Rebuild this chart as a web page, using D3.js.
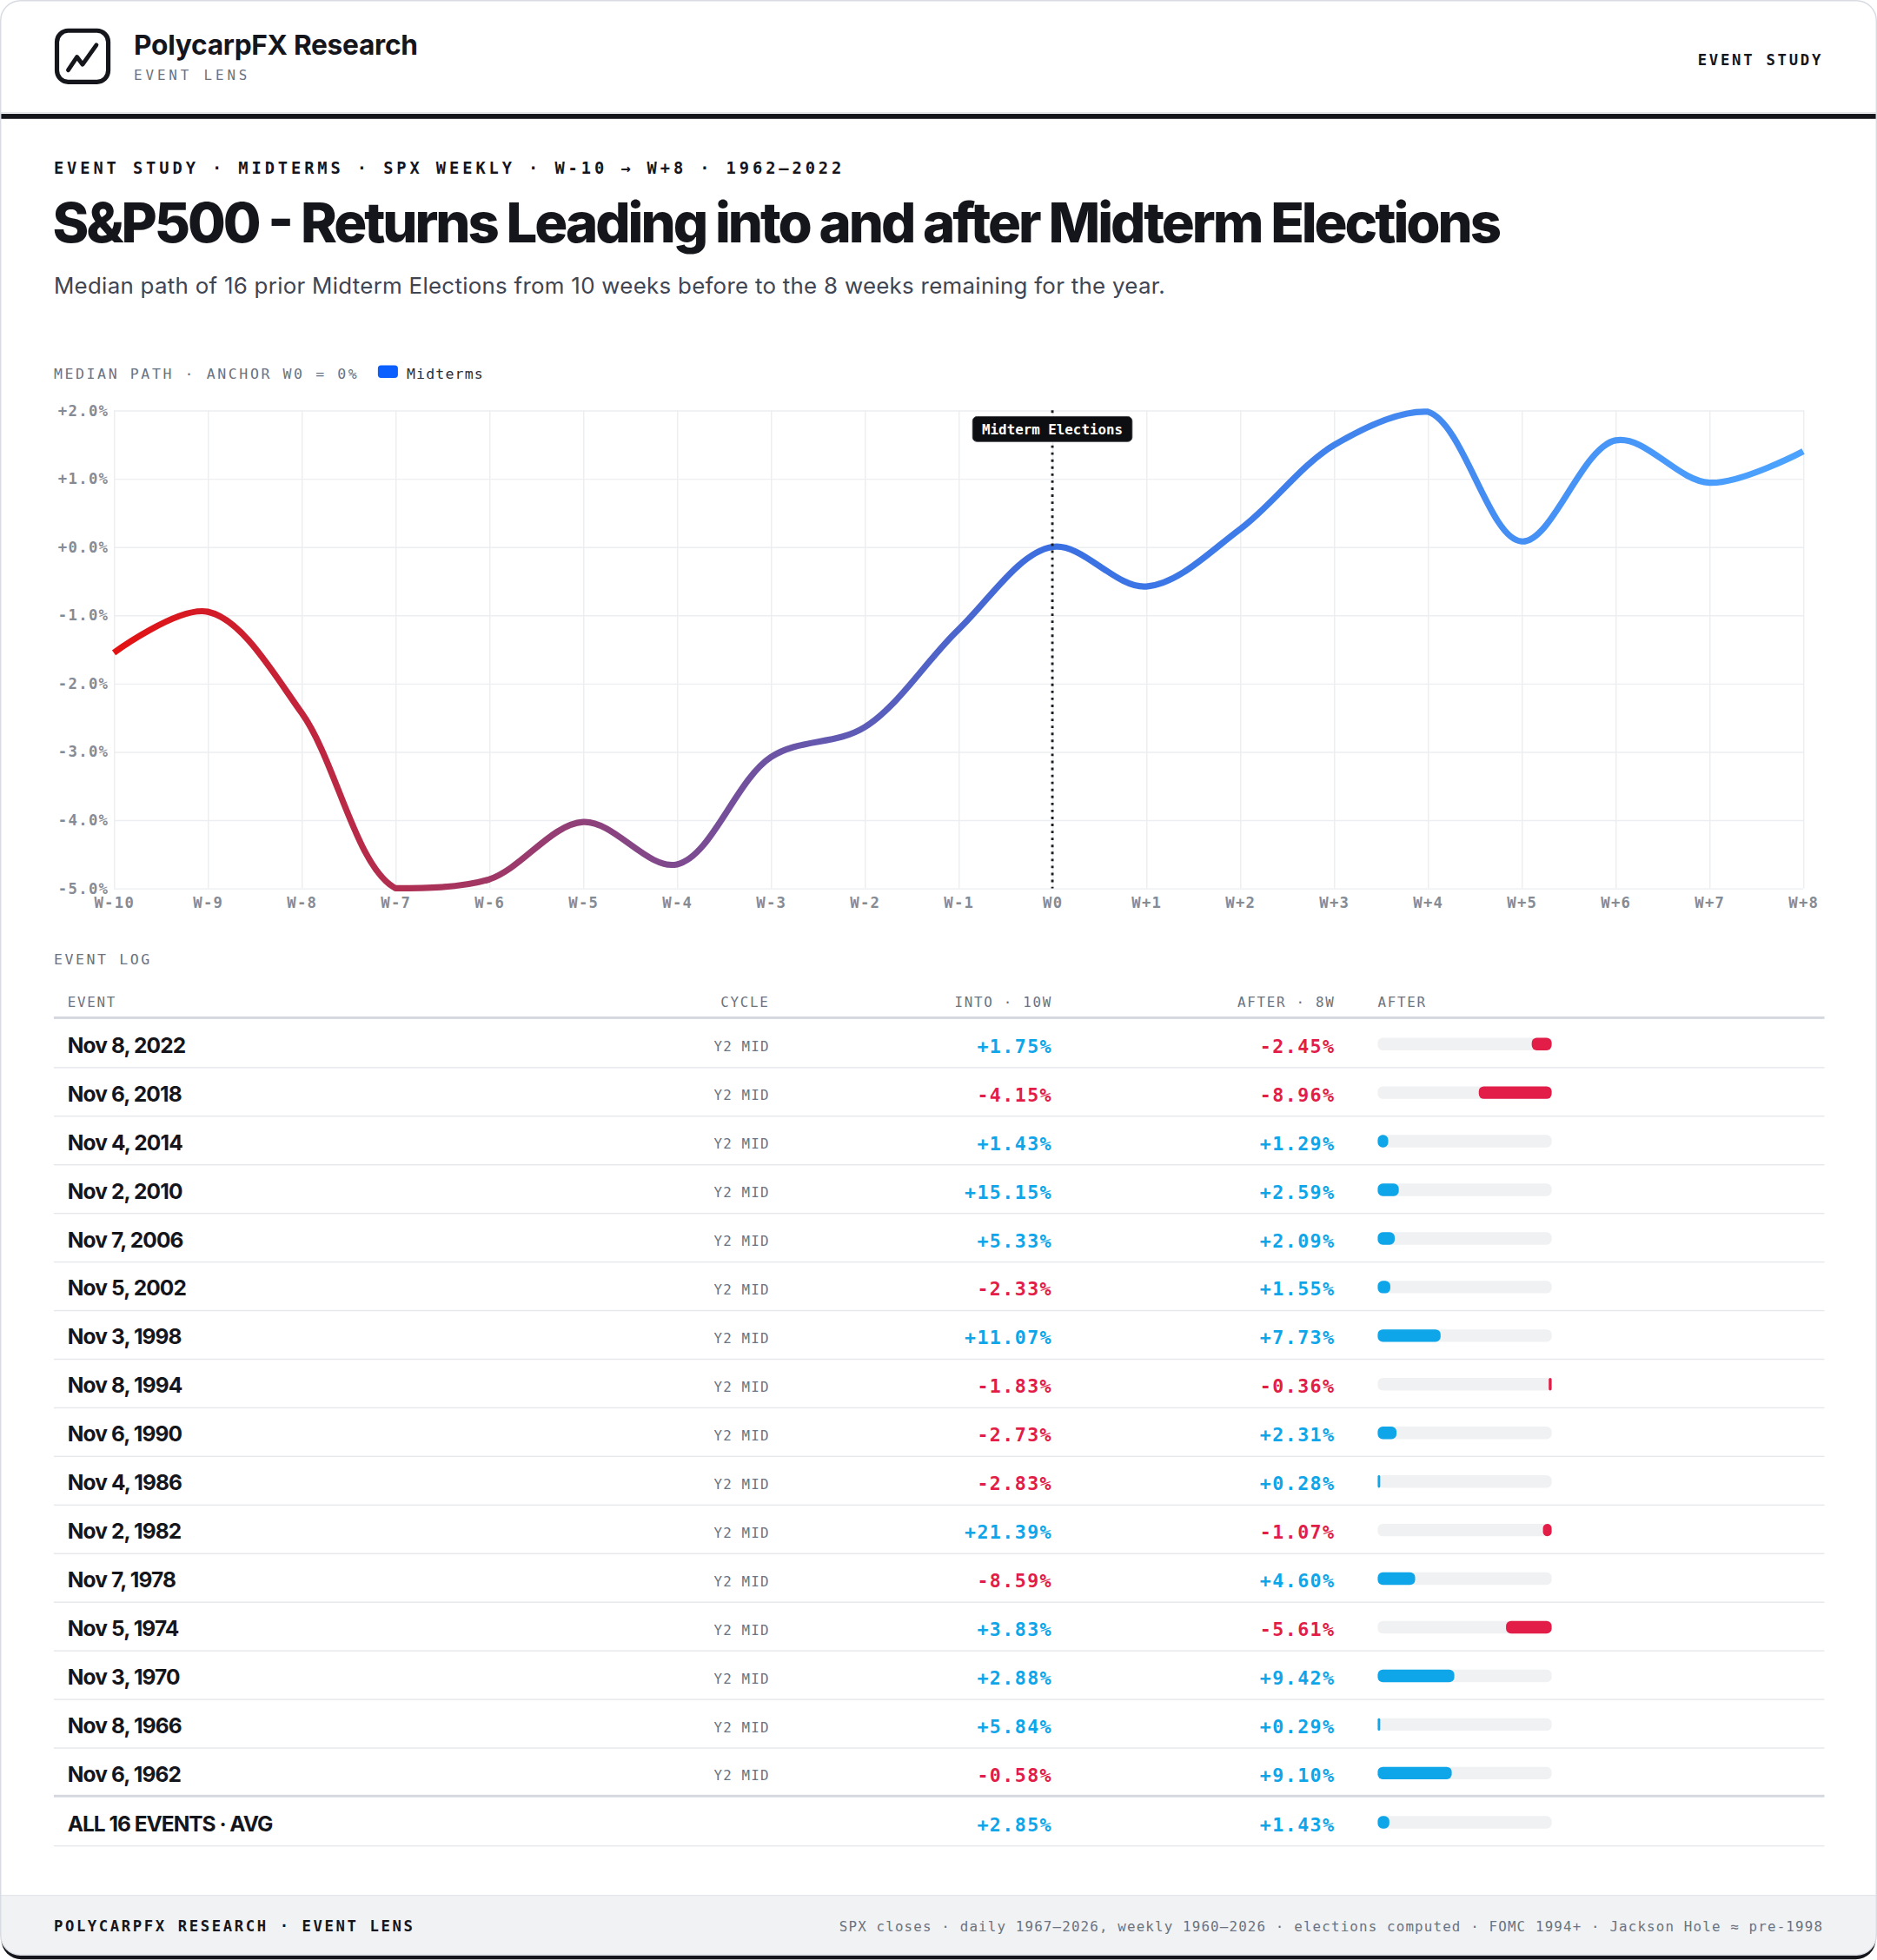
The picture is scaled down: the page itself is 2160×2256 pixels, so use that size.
<!DOCTYPE html>
<html>
<head>
<meta charset="utf-8">
<script src="https://cdn.jsdelivr.net/npm/d3@7"></script>
<style>
  html, body { margin: 0; padding: 0; background: #fff; }
  svg { display: block; }
</style>
</head>
<body>
<svg id="page"></svg>
<script>
// ---- data ----
const weeks = [-10, -9, -8, -7, -6, -5, -4, -3, -2, -1, 0, 1, 2, 3, 4, 5, 6, 7, 8]
const weekLabels = ['W-10', 'W-9', 'W-8', 'W-7', 'W-6', 'W-5', 'W-4', 'W-3', 'W-2', 'W-1',
    'W0', 'W+1', 'W+2', 'W+3', 'W+4', 'W+5', 'W+6', 'W+7', 'W+8']
// median path, % vs W0
const medianPath = [-1.55, -0.95, -2.43, -5.0, -4.87, -4.03, -4.65, -3.08, -2.64, -1.21,
    0.0, -0.58, 0.26, 1.49, 1.98, 0.08, 1.56, 0.94, 1.40]
const yTicks = [-5, -4, -3, -2, -1, 0, 1, 2]

const events = ['Nov 8, 2022', 'Nov 6, 2018', 'Nov 4, 2014', 'Nov 2, 2010', 'Nov 7, 2006',
    'Nov 5, 2002', 'Nov 3, 1998', 'Nov 8, 1994', 'Nov 6, 1990', 'Nov 4, 1986', 'Nov 2, 1982',
    'Nov 7, 1978', 'Nov 5, 1974', 'Nov 3, 1970', 'Nov 8, 1966', 'Nov 6, 1962']
const cycles = ['Y2 MID', 'Y2 MID', 'Y2 MID', 'Y2 MID', 'Y2 MID', 'Y2 MID', 'Y2 MID', 'Y2 MID',
    'Y2 MID', 'Y2 MID', 'Y2 MID', 'Y2 MID', 'Y2 MID', 'Y2 MID', 'Y2 MID', 'Y2 MID']
const intoReturns = [1.75, -4.15, 1.43, 15.15, 5.33, -2.33, 11.07, -1.83, -2.73, -2.83, 21.39,
    -8.59, 3.83, 2.88, 5.84, -0.58]
const afterReturns = [-2.45, -8.96, 1.29, 2.59, 2.09, 1.55, 7.73, -0.36, 2.31, 0.28, -1.07,
    4.60, -5.61, 9.42, 0.29, 9.10]
const avgReturns = [2.85, 1.43]

// ---- page ----
const W = 1500, H = 2256 / 1.44
const ink = '#15161c', grey = '#6b7280', pos = '#0ea5e9', neg = '#e11d48'
const mono = '"DejaVu Sans Mono", monospace'
const sans = 'Inter, "Noto Sans", sans-serif'

const svg = d3.select('#page')
    .attr('width', 2160)
    .attr('height', 2256)
    .attr('viewBox', `0 0 ${W} ${H}`)

const defs = svg.append('defs')
defs.append('clipPath').attr('id', 'card-clip')
    .append('rect').attr('x', 0.5).attr('y', 0.5).attr('width', W - 1).attr('height', H - 4.5).attr('rx', 16)

// card + dark bottom edge
svg.append('rect').attr('x', 1).attr('y', 4).attr('width', W - 2).attr('height', H - 4.5).attr('rx', 16).attr('fill', ink)
svg.append('rect').attr('x', 0.5).attr('y', 0.5).attr('width', W - 1).attr('height', H - 4.5).attr('rx', 16).attr('fill', '#fff')

const card = svg.append('g').attr('clip-path', 'url(#card-clip)')

// footer band
card.append('rect').attr('x', 0).attr('y', 1515).attr('width', W).attr('height', H - 1515).attr('fill', '#f1f2f4')
card.append('line').attr('x1', 0).attr('x2', W).attr('y1', 1515).attr('y2', 1515).attr('stroke', '#e3e6ea')

// header rule
card.append('line').attr('x1', 0).attr('x2', W).attr('y1', 90).attr('y2', 90).attr('stroke', '#e3e6ea')
card.append('rect').attr('x', 0).attr('y', 91).attr('width', W).attr('height', 4).attr('fill', ink)

svg.append('rect').attr('x', 0.5).attr('y', 0.5).attr('width', W - 1).attr('height', H - 4.5).attr('rx', 16)
    .attr('fill', 'none').attr('stroke', '#d8dce2')

const txt = (g, s, x, y, o) => {
    const t = g.append('text').attr('x', x).attr('y', y).text(s)
        .attr('font-family', o.font || mono)
        .attr('font-size', o.size)
        .attr('font-weight', o.weight || 400)
        .attr('fill', o.fill || ink)
        .attr('letter-spacing', o.ls || 0)
        .attr('text-anchor', o.anchor || 'start')
    if (o.width) t.attr('textLength', o.width).attr('lengthAdjust', 'spacing')
    return t
}

// ---- header ----
const head = svg.append('g').attr('class', 'header')
head.append('rect').attr('x', 45.5).attr('y', 24.5).attr('width', 41).attr('height', 41).attr('rx', 9)
    .attr('fill', 'none').attr('stroke', ink).attr('stroke-width', 3.6)
head.append('path').attr('d', 'M54.5 56 L61.5 45.5 L66 51.5 L77 36')
    .attr('fill', 'none').attr('stroke', ink).attr('stroke-width', 3.4)
    .attr('stroke-linecap', 'round').attr('stroke-linejoin', 'round')
txt(head, 'PolycarpFX Research', 107, 44, { font: sans, size: 22, weight: 700, width: 227 })
txt(head, 'EVENT LENS', 107, 64, { size: 11, fill: grey, ls: 2.7 })
txt(head, 'EVENT STUDY', 1457, 52, { size: 12, weight: 700, ls: 1.9, anchor: 'end' })

// ---- titles ----
const titles = svg.append('g').attr('class', 'titles')
txt(titles, 'EVENT STUDY · MIDTERMS · SPX WEEKLY · W-10 → W+8 · 1962–2022', 43, 139,
    { size: 13, weight: 700, ls: 2.6, width: 632 })
txt(titles, 'S&P500 - Returns Leading into and after Midterm Elections', 42, 194,
    { font: sans, size: 44, weight: 800, width: 1158 })
txt(titles, 'Median path of 16 prior Midterm Elections from 10 weeks before to the 8 weeks remaining for the year.',
    43, 235, { font: sans, size: 18, fill: '#3f4552', width: 888 })

// legend
txt(titles, 'MEDIAN PATH · ANCHOR W0 = 0%', 43, 303, { size: 11.5, fill: grey, ls: 1.8 })
titles.append('rect').attr('x', 302).attr('y', 292).attr('width', 16).attr('height', 10).attr('rx', 2.5).attr('fill', '#0b5fff')
txt(titles, 'Midterms', 325, 303, { size: 11.5, fill: '#2b2f38', ls: 0.8 })

// ---- chart ----
const x = d3.scaleLinear().domain([-10, 8]).range([91, 1441])
const y = d3.scaleLinear().domain([-5, 2]).range([710, 328])
const chart = svg.append('g').attr('class', 'chart')

const styleAxis = g => {
    g.select('.domain').remove()
    g.selectAll('.tick line').attr('stroke', '#eceef1').attr('stroke-width', 1)
    g.selectAll('.tick text').attr('fill', '#858b95').attr('font-weight', 700).attr('letter-spacing', 0.9)
    g.attr('font-family', mono).attr('font-size', 12)
}

chart.append('g')
    .attr('class', 'axis axis--x')
    .attr('transform', `translate(0, ${y(-5)})`)
    .call(d3.axisBottom(x).tickValues(weeks).tickFormat((d, i) => weekLabels[i])
        .tickSize(-(y(-5) - y(2))).tickPadding(7))
    .call(styleAxis)

chart.append('g')
    .attr('class', 'axis axis--y')
    .attr('transform', `translate(${x(-10)}, 0)`)
    .call(d3.axisLeft(y).tickValues(yTicks)
        .tickFormat(d => (d >= 0 ? '+' : '') + d.toFixed(1) + '%')
        .tickSize(-(x(8) - x(-10))).tickPadding(4))
    .call(styleAxis)

// colour runs red -> blue along the weeks
const grad = defs.append('linearGradient').attr('id', 'path-grad')
    .attr('gradientUnits', 'userSpaceOnUse')
    .attr('x1', x(-10)).attr('x2', x(8)).attr('y1', 0).attr('y2', 0)
grad.append('stop').attr('offset', 0).attr('stop-color', '#e41212')
grad.append('stop').attr('offset', (0 - -10) / 18).attr('stop-color', '#3a6fe2')
grad.append('stop').attr('offset', 1).attr('stop-color', '#4ca3ff')

// smooth path, held inside the plot band
const yMin = y(2), yMax = y(-5)
const cy = v => Math.max(yMin, Math.min(yMax, v))
const p = d3.path()
const clampCtx = {
    moveTo: (a, b) => p.moveTo(a, cy(b)),
    lineTo: (a, b) => p.lineTo(a, cy(b)),
    bezierCurveTo: (a, b, c, d, e, f) => p.bezierCurveTo(a, cy(b), c, cy(d), e, cy(f)),
    closePath: () => p.closePath()
}
d3.line()
    .x((d, i) => x(weeks[i]))
    .y(d => y(d))
    .curve(d3.curveCatmullRom)
    .context(clampCtx)(medianPath)

chart.append('path')
    .attr('class', 'line')
    .attr('d', p.toString())
    .attr('fill', 'none')
    .attr('stroke', 'url(#path-grad)')
    .attr('stroke-width', 5)
    .attr('stroke-linejoin', 'round')

// event marker
chart.append('line')
    .attr('x1', x(0)).attr('x2', x(0))
    .attr('y1', y(2)).attr('y2', y(-5))
    .attr('stroke', '#1c1d22').attr('stroke-width', 2).attr('stroke-dasharray', '2 3.6')
const tag = chart.append('g').attr('transform', `translate(${x(0)}, 343)`)
const tagText = txt(tag, 'Midterm Elections', 0, 4, { size: 11, weight: 700, fill: '#fff', anchor: 'middle' })
const tw = tagText.node().getComputedTextLength() + 15
tag.insert('rect', 'text').attr('x', -tw / 2).attr('y', -10).attr('width', tw).attr('height', 20).attr('rx', 3.5)
    .attr('fill', '#0d0e12').attr('stroke', '#3a3b40').attr('stroke-width', 0.6)

// ---- event log ----
const table = svg.append('g').attr('class', 'event-log')
txt(table, 'EVENT LOG', 43, 771, { size: 11.5, fill: grey, ls: 1.8 })

const col = { event: 54, cycle: 615, into: 841, after: 1067, bar: 1101 }
const barW = 139
txt(table, 'EVENT', col.event, 805, { size: 11, fill: grey, ls: 1.2 })
txt(table, 'CYCLE', col.cycle, 805, { size: 11, fill: grey, ls: 1.2, anchor: 'end' })
txt(table, 'INTO · 10W', col.into, 805, { size: 11, fill: grey, ls: 1.2, anchor: 'end' })
txt(table, 'AFTER · 8W', col.after, 805, { size: 11, fill: grey, ls: 1.2, anchor: 'end' })
txt(table, 'AFTER', col.bar, 805, { size: 11, fill: grey, ls: 1.2 })
table.append('rect').attr('x', 43).attr('y', 812.5).attr('width', 1415).attr('height', 2).attr('fill', '#d4d8de')

const fmt = v => (v >= 0 ? '+' : '') + v.toFixed(2) + '%'
const tone = v => v >= 0 ? pos : neg
const bar = d3.scaleLinear()
    .domain([0, d3.max(intoReturns.concat(afterReturns), Math.abs)])
    .range([0, barW])

const rowH = 38.85, top0 = 814.5
const rows = events.map((e, i) => ({ label: e, cycle: cycles[i], into: intoReturns[i], after: afterReturns[i], bold: false }))
rows.push({ label: `ALL ${events.length} EVENTS · AVG`, cycle: '', into: avgReturns[0], after: avgReturns[1], bold: true })

rows.forEach((r, i) => {
    const top = top0 + i * rowH + (r.bold ? 0.5 : 0)
    const g = table.append('g').attr('class', 'row')
    txt(g, r.label, col.event, top + 27, { font: sans, size: 17, weight: 700, ls: r.bold ? -0.7 : -0.6 })
    if (r.cycle) txt(g, r.cycle, col.cycle, top + 26, { size: 11, fill: grey, ls: 0.8, anchor: 'end' })
    txt(g, fmt(r.into), col.into, top + 27, { size: 15, weight: 700, fill: tone(r.into), ls: 1, anchor: 'end' })
    txt(g, fmt(r.after), col.after, top + 27, { size: 15, weight: 700, fill: tone(r.after), ls: 1, anchor: 'end' })
    g.append('rect').attr('x', col.bar).attr('y', top + 15).attr('width', barW).attr('height', 10).attr('rx', 4)
        .attr('fill', '#eff1f3')
    const w = Math.max(2, bar(Math.abs(r.after)))
    g.append('rect')
        .attr('x', r.after >= 0 ? col.bar : col.bar + barW - w)
        .attr('y', top + 15).attr('width', w).attr('height', 10).attr('rx', Math.min(4, w / 2))
        .attr('fill', tone(r.after))
    const last = i === events.length - 1
    g.append('rect').attr('x', 43).attr('width', 1415)
        .attr('y', top + rowH - (last ? 1.5 : 0.5)).attr('height', last ? 2 : 1)
        .attr('fill', last ? '#d4d8de' : '#e6e8ec')
})

// ---- footer ----
const foot = svg.append('g').attr('class', 'footer')
txt(foot, 'POLYCARPFX RESEARCH · EVENT LENS', 43, 1544, { size: 12, weight: 700, ls: 1.8 })
txt(foot, 'SPX closes · daily 1967–2026, weekly 1960–2026 · elections computed · FOMC 1994+ · Jackson Hole ≈ pre-1998',
    1457, 1544, { size: 11, fill: grey, ls: 0.8, anchor: 'end' })
</script>
</body>
</html>
